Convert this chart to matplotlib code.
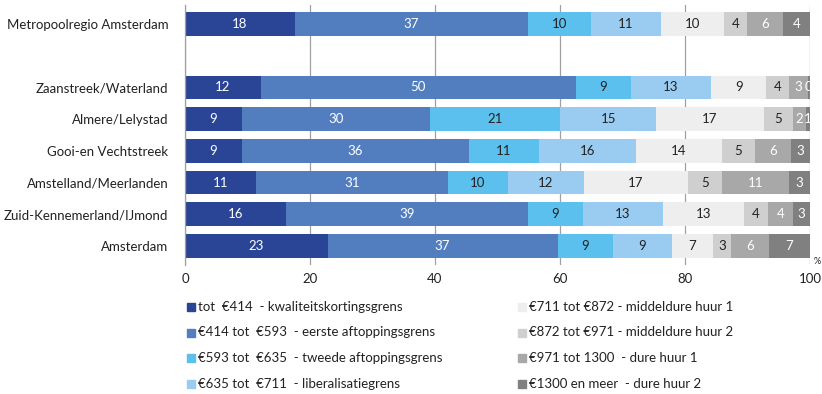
import numpy as np
import matplotlib.pyplot as plt
from matplotlib.patches import Rectangle

plt.rcParams['font.family'] = ['Lato', 'DejaVu Sans']

regions = ["Metropoolregio Amsterdam", "", "Zaanstreek/Waterland", "Almere/Lelystad",
           "Gooi-en Vechtstreek", "Amstelland/Meerlanden", "Zuid-Kennemerland/IJmond",
           "Amsterdam"]

# aandeel woningen per huurklasse (%), per regio
tot_414 = [17.6, 0, 12.1, 9.1, 9.1, 11.4, 16.1, 22.8]
r414_593 = [37.2, 0, 50.4, 30.1, 36.4, 30.6, 38.8, 36.8]
r593_635 = [10.1, 0, 8.8, 20.8, 11.1, 9.7, 8.7, 8.9]
r635_711 = [11.3, 0, 12.9, 15.4, 15.6, 12.1, 12.8, 9.4]
r711_872 = [10.1, 0, 8.8, 17.2, 13.7, 16.7, 13.0, 6.6]
r872_971 = [3.6, 0, 3.7, 4.7, 5.3, 5.4, 3.8, 2.8]
r971_1300 = [5.8, 0, 2.9, 2.0, 5.7, 10.7, 4.1, 6.1]
r1300_plus = [4.3, 0, 0.4, 0.7, 3.1, 3.4, 2.7, 6.6]

klassen = [tot_414, r414_593, r593_635, r635_711, r711_872, r872_971, r971_1300, r1300_plus]

legend_labels = ["tot  €414  - kwaliteitskortingsgrens",
                 "€414 tot  €593  - eerste aftoppingsgrens",
                 "€593 tot  €635  - tweede aftoppingsgrens",
                 "€635 tot  €711  - liberalisatiegrens",
                 "€711 tot €872 - middeldure huur 1",
                 "€872 tot €971 - middeldure huur 2",
                 "€971 tot 1300  - dure huur 1",
                 "€1300 en meer  - dure huur 2"]

colors = ["#2B4596", "#527EC0", "#5BC0EE", "#9ACBF0",
          "#EEEEEE", "#CFCFCF", "#A8A8A8", "#808080"]
text_colors = ["white", "white", "#222222", "#222222",
               "#222222", "#222222", "white", "white"]

fig = plt.figure(figsize=(8.22, 3.94), dpi=100)
ax = fig.add_axes([185 / 822, 129 / 394, 625 / 822, 260 / 394])

y = np.arange(len(regions))
left = np.zeros(len(regions))
for vals, col, tcol in zip(klassen, colors, text_colors):
    vals = np.array(vals)
    ax.barh(y, vals, left=left, height=0.75, color=col, zorder=2)
    for yi, (l, v) in enumerate(zip(left, vals)):
        if regions[yi] == "":
            continue
        ax.text(l + v / 2, yi, f"{v:.0f}", ha="center", va="center",
                fontsize=9.5, color=tcol, zorder=3)
    left += vals

ax.set_xlim(0, 100)
ax.set_ylim(7.6, -0.6)
ax.set_yticks(y[[0, 2, 3, 4, 5, 6, 7]])
ax.set_yticklabels([r for r in regions if r], fontsize=9.5, color="#222222")
ax.set_xticks(np.arange(0, 101, 20))
ax.tick_params(axis="both", length=0, labelsize=9.5, labelcolor="#222222")
ax.tick_params(axis="y", pad=12)
ax.tick_params(axis="x", pad=6)
ax.xaxis.grid(True, color="#A0A0A0", lw=0.9, zorder=0)
for s in ["top", "right", "bottom"]:
    ax.spines[s].set_visible(False)
ax.spines["left"].set_color("#A0A0A0")
ax.spines["left"].set_linewidth(0.9)
ax.text(100.5, 7.62, "%", fontsize=6.5, color="#222222", va="bottom", ha="left")

# legenda in twee kolommen
for i, (lab, col) in enumerate(zip(legend_labels, colors)):
    col_x = 187 if i < 4 else 518
    row_y = 307 + (i % 4) * 25.5
    fig.patches.append(Rectangle((col_x / 822, 1 - (row_y + 4) / 394), 8 / 822, 8 / 394,
                                 transform=fig.transFigure, color=col))
    fig.text((col_x + 11) / 822, 1 - row_y / 394, lab, fontsize=9.5,
             color="#222222", va="center", ha="left")

fig.savefig("out.png", dpi=100)
